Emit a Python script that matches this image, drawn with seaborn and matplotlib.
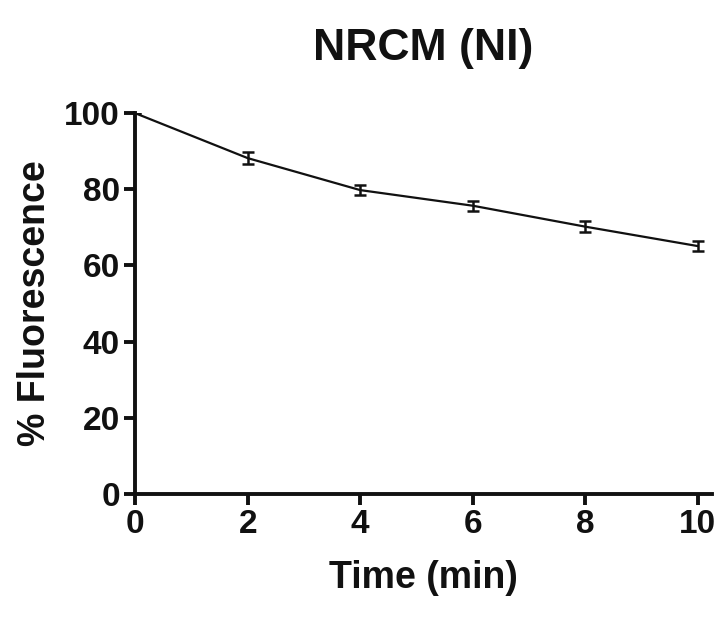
import matplotlib
matplotlib.use("Agg")
import matplotlib.pyplot as plt
import seaborn as sns
import pandas as pd

# data
time_min = [0, 2, 4, 6, 8, 10]
fluorescence = [100, 88.2, 79.8, 75.7, 70.2, 65.1]
sem = [0, 1.5, 1.3, 1.3, 1.5, 1.2]

df = pd.DataFrame({"time": time_min, "fluor": fluorescence, "sem": sem})

sns.set_style("ticks")
plt.rcParams['font.family'] = ['Liberation Sans Narrow', 'Liberation Sans', 'DejaVu Sans']
plt.rcParams['font.weight'] = 'bold'
plt.rcParams['text.color'] = '#111111'
plt.rcParams['axes.labelcolor'] = '#111111'
plt.rcParams['xtick.color'] = '#111111'
plt.rcParams['ytick.color'] = '#111111'

fig = plt.figure(figsize=(7.27, 6.22), dpi=100)
ax = fig.add_axes([0.186, 0.206, 0.793, 0.612])

sns.lineplot(data=df, x="time", y="fluor", color="#111111", linewidth=1.6, ax=ax)
ax.errorbar(df["time"], df["fluor"], yerr=df["sem"], fmt="none", ecolor="#111111",
            elinewidth=1.8, capsize=4, capthick=1.8)

ax.set_xlim(0, 10.25)
ax.set_ylim(0, 100)
ax.set_xticks([0, 2, 4, 6, 8, 10])
ax.set_yticks([0, 20, 40, 60, 80, 100])
sns.despine(ax=ax)
for s in ["left", "bottom"]:
    ax.spines[s].set_linewidth(2.8)
    ax.spines[s].set_color("#111111")
ax.tick_params(width=2.8, length=8, labelsize=24, pad=3)
for lab in ax.get_xticklabels() + ax.get_yticklabels():
    lab.set_fontweight("bold")

ax.set_title("NRCM (NI)", fontsize=32, fontweight="bold", pad=38)
ax.set_xlabel("Time (min)", fontsize=27, fontweight="bold", labelpad=14)
ax.set_ylabel("% Fluorescence", fontsize=27, fontweight="bold", labelpad=8)

fig.savefig("out.png", dpi=100)
